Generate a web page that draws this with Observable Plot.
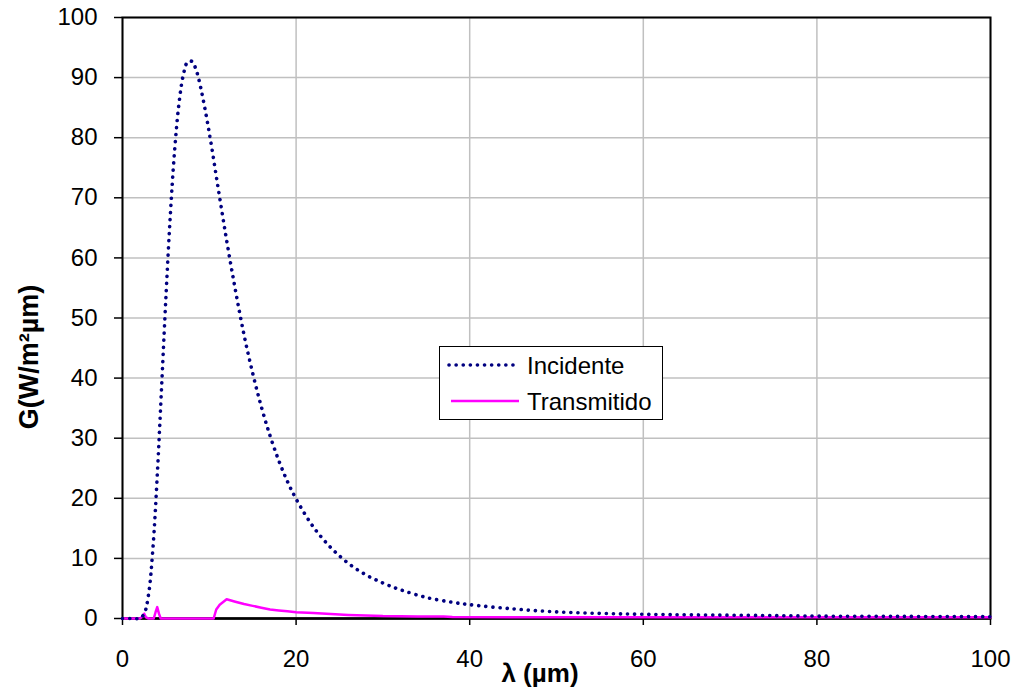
<!DOCTYPE html>
<html><head><meta charset="utf-8">
<script src="https://cdn.jsdelivr.net/npm/d3@7"></script>
<script src="https://cdn.jsdelivr.net/npm/@observablehq/plot@0.6"></script>
<style>
body{margin:0;background:#fff;}
#wrap{position:relative;width:1016px;height:687px;font-family:"Liberation Sans",Arial,sans-serif;}
#wrap svg.overlay{position:absolute;left:0;top:0;pointer-events:none;}
</style></head><body><div id="wrap"></div>
<script>
// Incident radiation (dotted navy)
const incLambda = [0,1,2,2.5,3,3.5,4,4.5,5,5.5,6,6.5,7,7.5,8,8.5,9,10,11,12,13,14,15,16,17,18,19,20,22,24,26,28,30,32,35,38,40,45,50,55,60,66,74,80,90,100];
const incG      = [0,0,0.05,0.8,4.0,11.6,23.7,38.4,53.4,66.9,77.8,85.6,90.4,92.6,92.7,91.2,88.4,80.8,71.8,62.9,54.7,47.2,40.8,35.2,30.4,26.3,22.8,19.9,15.2,11.8,9.2,7.3,5.9,4.8,3.5,2.7,2.3,1.6,1.1,0.85,0.7,0.6,0.5,0.4,0.35,0.3];
// Transmitted radiation (solid magenta)
const trLambda = [0,2,2.3,2.5,2.7,3,3.6,3.8,4.0,4.2,4.4,10.5,10.8,11.2,12,13,14,15,16,17,18,19,20,22,24,26,28,30,34,37,38,45,60,80,100];
const trG      = [0,0,0.3,0.8,0.2,0,0,1.0,1.9,0.8,0,0,1.5,2.3,3.2,2.8,2.4,2.1,1.8,1.5,1.35,1.2,1.05,0.9,0.75,0.6,0.5,0.4,0.35,0.33,0.25,0.22,0.2,0.2,0.2];
const seriesNames = ["Incidente","Transmitido"];
const seriesColors = ["#000080","#ff00ff"];
const xTicks = [0,20,40,60,80,100];
const yTicks = [0,10,20,30,40,50,60,70,80,90,100];
const xTitle = "λ (µm)";
const yTitle = "G(W/m²µm)";

const incData = incLambda.map((l,i)=>({lambda:l,g:incG[i]}));
const trData = trLambda.map((l,i)=>({lambda:l,g:trG[i]}));

const W = 1016, H = 687;
const plot = Plot.plot({
  width: W, height: H,
  marginLeft: 122, marginRight: 26, marginTop: 17, marginBottom: 69,
  style: {fontFamily: '"Liberation Sans", Arial, sans-serif', fontSize: "24px", background: "#fff", color: "#000", overflow: "visible"},
  x: {domain: [0,100], label: null},
  y: {domain: [0,100], label: null},
  marks: [
    Plot.gridX(xTicks, {stroke: "#c0c0c0", strokeOpacity: 1, strokeWidth: 1.5}),
    Plot.gridY(yTicks, {stroke: "#c0c0c0", strokeOpacity: 1, strokeWidth: 1.5}),
    Plot.frame({stroke: "#000", strokeWidth: 2}),
    Plot.axisX(xTicks, {tickSize: 7, tickPadding: 24, stroke: "#000", strokeWidth: 1.5, fontSize: 24, fill: "#000", label: null}),
    Plot.axisY(yTicks, {tickSize: 8, tickPadding: 17, stroke: "#000", strokeWidth: 1.5, fontSize: 24, fill: "#000", label: null}),
    Plot.ruleY([0], {stroke: "#000", strokeWidth: 2.5}),
    Plot.line(trData, {x: "lambda", y: "g", stroke: seriesColors[1], strokeWidth: 2.5}),
    Plot.line(incData, {x: "lambda", y: "g", stroke: seriesColors[0], strokeWidth: 3.6, strokeDasharray: "0.1,7", strokeLinecap: "round", curve: "catmull-rom"})
  ]
});
const wrap = document.getElementById("wrap");
wrap.appendChild(plot);

// Overlay: axis titles and legend
const ov = d3.select(wrap).append("svg").attr("class","overlay").attr("width",W).attr("height",H)
  .style("font-family",'"Liberation Sans", Arial, sans-serif');
ov.append("text").attr("transform","translate(38,357) rotate(-90)").attr("text-anchor","middle")
  .attr("font-weight","bold").attr("font-size",27).attr("fill","#000").text(yTitle);
ov.append("text").attr("x",540).attr("y",682).attr("text-anchor","middle")
  .attr("font-weight","bold").attr("font-size",26).attr("fill","#000").text(xTitle);

const lg = ov.append("g").attr("transform","translate(439,346)");
lg.append("rect").attr("x",0.5).attr("y",0.5).attr("width",223).attr("height",73).attr("fill","#fff").attr("stroke","#000").attr("stroke-width",1);
lg.append("line").attr("x1",10).attr("x2",74).attr("y1",19).attr("y2",19)
  .attr("stroke",seriesColors[0]).attr("stroke-width",3.6).attr("stroke-dasharray","0.1,7").attr("stroke-linecap","round");
lg.append("line").attr("x1",12).attr("x2",80).attr("y1",55).attr("y2",55)
  .attr("stroke",seriesColors[1]).attr("stroke-width",2.5);
lg.append("text").attr("x",88).attr("y",28).attr("font-size",24).attr("fill","#000").text(seriesNames[0]);
lg.append("text").attr("x",88).attr("y",64).attr("font-size",24).attr("fill","#000").text(seriesNames[1]);
</script>
</body></html>
